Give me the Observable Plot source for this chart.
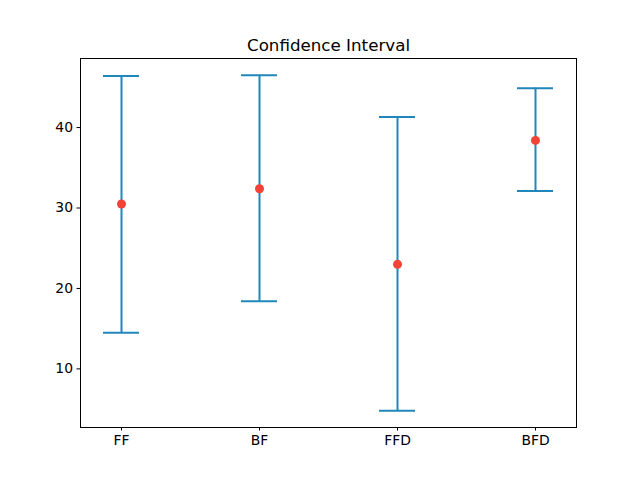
<!DOCTYPE html>
<html>
<head>
<meta charset="utf-8">
<script src="https://cdn.jsdelivr.net/npm/d3@7"></script>
<script src="https://cdn.jsdelivr.net/npm/@observablehq/plot@0.6"></script>
<style>
  html, body { margin: 0; padding: 0; background: #fff; }
  #chart svg { display: block; }
</style>
</head>
<body>
<div id="chart"></div>
<script>
const categories = ["FF", "BF", "FFD", "BFD"];
const means = [30.5, 32.4, 23.0, 38.4];
const lower = [14.5, 18.4, 4.8, 32.1];
const upper = [46.4, 46.5, 41.3, 44.9];
const yTicks = [10, 20, 30, 40];
const title = "Confidence Interval";

const data = categories.map((c, i) => ({cat: c, mean: means[i], lo: lower[i], hi: upper[i]}));

const lineColor = "#2187bb";
const dotColor = "#f44336";

const chart = Plot.plot({
  width: 640,
  height: 480,
  marginTop: 58,
  marginBottom: 53,
  marginLeft: 80,
  marginRight: 64,
  style: {fontFamily: "DejaVu Sans", fontSize: "13.9px", background: "#fff", color: "#000"},
  x: {type: "band", domain: categories, paddingInner: 0.74, paddingOuter: 0.158, label: null},
  y: {domain: [2.715, 48.585], ticks: yTicks, label: null},
  marks: [
    Plot.ruleX(data, {x: "cat", y1: "lo", y2: "hi", stroke: lineColor, strokeWidth: 2}),
    Plot.tickY(data, {x: "cat", y: "hi", stroke: lineColor, strokeWidth: 2}),
    Plot.tickY(data, {x: "cat", y: "lo", stroke: lineColor, strokeWidth: 2}),
    Plot.dot(data, {x: "cat", y: "mean", r: 4.5, fill: dotColor, stroke: "none"}),
    Plot.frame({stroke: "#000", strokeWidth: 1}),
    Plot.axisX({tickSize: 3.5, tickPadding: 4, fontSize: 13.9, stroke: "#000"}),
    Plot.axisY({ticks: yTicks, tickSize: 3.5, tickPadding: 4, fontSize: 13.9, stroke: "#000"}),
    Plot.text([title], {frameAnchor: "top", lineAnchor: "bottom", dy: -8, fontSize: 16.7, fill: "#000"})
  ]
});
document.getElementById("chart").appendChild(chart);
</script>
</body>
</html>
